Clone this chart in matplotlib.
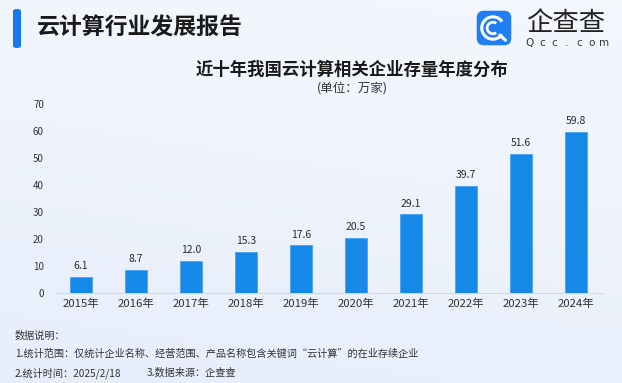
import numpy as np
import matplotlib
matplotlib.use("Agg")
import matplotlib.pyplot as plt
from matplotlib.patches import FancyBboxPatch, Arc

plt.rcParams['font.family'] = ['Noto Sans CJK SC', 'DejaVu Sans']

# data
years = ['2015年', '2016年', '2017年', '2018年', '2019年',
         '2020年', '2021年', '2022年', '2023年', '2024年']
values = [6.1, 8.7, 12.0, 15.3, 17.6, 20.5, 29.1, 39.7, 51.6, 59.8]
yticks = [0, 10, 20, 30, 40, 50, 60, 70]

header = '云计算行业发展报告'
chart_title = '近十年我国云计算相关企业存量年度分布'
unit_text = '(单位：万家)'
notes = ['数据说明：',
         '1.统计范围：仅统计企业名称、经营范围、产品名称包含关键词“云计算”的在业存续企业',
         '2.统计时间：2025/2/18']
source_note = '3.数据来源：企查查'

W, H = 622, 383
fig = plt.figure(figsize=(W / 100, H / 100), dpi=100)

# soft blue background gradient
bg = fig.add_axes([0, 0, 1, 1], zorder=-10)
gx, gy = np.meshgrid(np.linspace(0, 1, 200), np.linspace(0, 1, 200))
top = np.array([0.957, 0.969, 0.992])
bot = np.array([0.906, 0.933, 0.984])
t = np.clip(gy * 0.8 + (1 - gx) * 0.2, 0, 1)[..., None]
img = top * (1 - t) + bot * t
bg.imshow(img, extent=[0, 1, 0, 1], aspect='auto', origin='upper')
bg.axis('off')


def fx(px):
    return px / W


def fy(py):
    return 1 - py / H


# header accent bar and header title
fig.patches.append(FancyBboxPatch((fx(13), fy(48)), fx(8), 39 / H,
                                  boxstyle='round,pad=0,rounding_size=0.006',
                                  transform=fig.transFigure, facecolor='#1677ee',
                                  edgecolor='none'))
fig.text(fx(37), fy(28), header, fontsize=16.5, fontweight='bold',
         color='#1a1a1a', va='center', ha='left')

# logo
lax = fig.add_axes([fx(476), fy(46), 36 / W, 36 / H])
lax.set_xlim(0, 1)
lax.set_ylim(0, 1)
lax.axis('off')
lax.add_patch(FancyBboxPatch((0.02, 0.02), 0.96, 0.96,
                             boxstyle='round,pad=0,rounding_size=0.2',
                             facecolor='#1f7ff2', edgecolor='none'))
lax.add_patch(Arc((0.47, 0.5), 0.62, 0.62, theta1=35, theta2=325,
                  color='white', lw=2.2))
lax.add_patch(Arc((0.47, 0.5), 0.32, 0.32, theta1=55, theta2=305,
                  color='white', lw=2.0))
lax.plot([0.66, 0.82], [0.3, 0.16], color='white', lw=2.2,
         solid_capstyle='round')
fig.text(fx(566), fy(23), '企查查', fontsize=19, color='#222222',
         ha='center', va='center')
for i, ch in enumerate('Qcc.com'):
    fig.text(fx(530 + i * 12.3), fy(43), ch, fontsize=7.5, color='#333333',
             ha='center', va='center', family='DejaVu Sans')

# chart titles
fig.text(fx(352), fy(70), chart_title, fontsize=12.5, fontweight='bold',
         color='#1a1a1a', ha='center', va='center')
fig.text(fx(352), fy(88), unit_text, fontsize=9, color='#333333',
         ha='center', va='center')

# bar chart
ax = fig.add_axes([fx(55), fy(293), (603 - 55) / W, (293 - 104) / H])
ax.patch.set_alpha(0)
x = np.arange(len(years))
bars = ax.bar(x, values, width=0.4, color='#1689e8', edgecolor='#4aa3f0',
              linewidth=0.6, zorder=3)
for xi, v in zip(x, values):
    ax.annotate(f'{v:.1f}', (xi, v), xytext=(0, 4), textcoords='offset points',
                ha='center', va='bottom', fontsize=7.5, color='#2a2a2a')
ax.set_xlim(-0.473, 9.49)
ax.set_ylim(0, 70)
ax.set_yticks(yticks)
ax.set_yticklabels([str(v) for v in yticks], fontsize=7, color='#333333')
ax.set_xticks(x)
ax.set_xticklabels(years, fontsize=8.2, color='#333333')
ax.tick_params(axis='both', length=0)
ax.tick_params(axis='y', pad=8)
ax.tick_params(axis='x', pad=4)
for s in ['top', 'right', 'left']:
    ax.spines[s].set_visible(False)
ax.spines['bottom'].set_color('#d3d9e3')
ax.spines['bottom'].set_linewidth(0.8)

# notes
for txt, py in zip(notes, [336, 354, 373]):
    fig.text(fx(15), fy(py), txt, fontsize=7.3, color='#333333',
             ha='left', va='center')
fig.text(fx(147), fy(373), source_note, fontsize=7.3, color='#333333',
         ha='left', va='center')

fig.savefig('out.png', dpi=100)
